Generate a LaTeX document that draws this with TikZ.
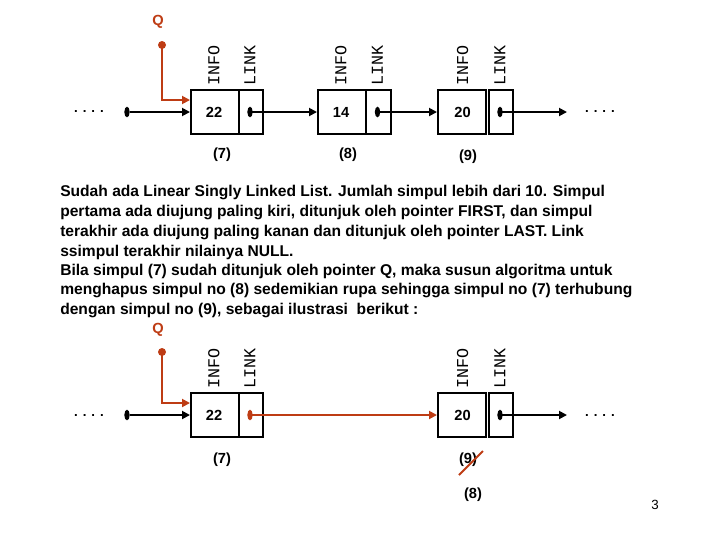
\documentclass[tikz,border=0pt]{standalone}
\usepackage{fontspec}
\setmainfont{Liberation Sans}
\newfontfamily\monof{Liberation Mono}
\usetikzlibrary{arrows.meta,shapes.geometric}
\definecolor{qred}{RGB}{190,60,20}
\tikzset{
 x=0.75pt,y=-0.75pt,
 cell/.style={draw,line width=1.6pt,minimum height=33pt,inner sep=0pt},
 lbl/.style={rotate=90,anchor=west,font=\monof\fontsize{12.5}{12.5}\selectfont,inner sep=0pt},
 num/.style={font=\bfseries\fontsize{11}{11}\selectfont},
 arr/.style={line width=1.4pt,-{Triangle[length=6pt,width=6pt]}},
 pdot/.style={ellipse,fill,minimum width=4pt,minimum height=8pt,inner sep=0pt},
 txt/.style={anchor=west,font=\bfseries\fontsize{11.7}{12}\selectfont,inner sep=0pt},
}
\begin{document}
\begin{tikzpicture}
\useasboundingbox (0,0) rectangle (720,540);
% ---- top
\foreach \n/\l/\d/\r/\v/\y in {a/190/238/262/22/112,b/317/365/390/14/112,c/437/488/512/20/112}{
 \node[cell,minimum width=36pt,anchor=west] (\n i) at (\l,\y) {};
 \node[cell,minimum width={(\r-\d)*0.75pt},anchor=west] (\n l) at (\d,\y) {};
 \node[num] (\n v) at ({(\l+\d)/2},\y) {\v};
 \node[pdot] (\n d) at ({(\d+\r)/2},\y) {};
 \node[lbl] (\n I) at ({(\l+\d)/2},86) {INFO};
 \node[lbl] (\n L) at ({(\d+\r)/2},86) {LINK};
}
\node[font=\bfseries] (ldots) at (89,112) {. . . .};
\node[font=\bfseries] (rdots) at (600,112) {. . . .};
\node[pdot] (s0) at (127,112) {};
\coordinate (e0) at (567,112);
\draw[arr] (s0) -- (ai.west);
\draw[arr] (ad.center) -- (bi.west);
\draw[arr] (bd.center) -- (ci.west);
\draw[arr] (cd.center) -- (e0);
\node[num] (p7) at (222,155) {(7)};
\node[num] (p8) at (348,155) {(8)};
\node[num] (p9) at (468,157) {(9)};
\node[num,text=qred] (Q1) at (158,22) {Q};
\node[circle,fill=qred,minimum size=6pt,inner sep=0pt] (q1) at (162,45) {};
\draw[arr,qred] (q1.center) |- ([yshift=9pt]ai.west);
% ---- text
\node[txt] (t1) at (60,192) {Sudah ada Linear Singly Linked List. Jumlah simpul lebih dari 10. Simpul};
\node[txt] (t2) at (60,212) {pertama ada diujung paling kiri, ditunjuk oleh pointer FIRST, dan simpul};
\node[txt] (t3) at (60,232) {terakhir ada diujung paling kanan dan ditunjuk oleh pointer LAST. Link};
\node[txt] (t4) at (60,252) {ssimpul terakhir nilainya NULL.};
\node[txt] (t5) at (60,271) {Bila simpul (7) sudah ditunjuk oleh pointer Q, maka susun algoritma untuk};
\node[txt] (t6) at (60,290) {menghapus simpul no (8) sedemikian rupa sehingga simpul no (7) terhubung};
\node[txt] (t7) at (60,310) {dengan simpul no (9), sebagai ilustrasi \ berikut :};
% ---- bottom
\foreach \n/\l/\d/\r/\v/\y in {x/190/238/262/22/415,z/437/488/512/20/415}{
 \node[cell,minimum width=36pt,anchor=west] (\n i) at (\l,\y) {};
 \node[cell,minimum width={(\r-\d)*0.75pt},anchor=west] (\n l) at (\d,\y) {};
 \node[num] (\n v) at ({(\l+\d)/2},\y) {\v};
 \node[lbl] (\n I) at ({(\l+\d)/2},389) {INFO};
 \node[lbl] (\n L) at ({(\d+\r)/2},389) {LINK};
}
\node[pdot,fill=qred] (xd) at (250,415) {};
\node[pdot] (zd) at (500,415) {};
\node[font=\bfseries] (ldots2) at (89,415) {. . . .};
\node[font=\bfseries] (rdots2) at (600,415) {. . . .};
\node[pdot] (s1) at (127,415) {};
\coordinate (e1) at (567,415);
\draw[arr] (s1) -- (xi.west);
\draw[arr,qred] (xd.center) -- (zi.west);
\draw[arr] (zd.center) -- (e1);
\node[num] (p7b) at (222,460) {(7)};
\node[num] (p9b) at (468,460) {(9)};
\coordinate (k1) at (459,475);
\coordinate (k2) at (483,451);
\draw[qred,line width=1.4pt] (k1) -- (k2);
\node[num] (p8b) at (473,495) {(8)};
\node[text=qred,num] (Q2) at (158,330) {Q};
\node[circle,fill=qred,minimum size=6pt,inner sep=0pt] (q2) at (162,352) {};
\draw[arr,qred] (q2.center) |- ([yshift=9pt]xi.west);
\node[font=\fontsize{10}{10}\selectfont] (pg) at (655,505) {3};
\end{tikzpicture}
\end{document}
